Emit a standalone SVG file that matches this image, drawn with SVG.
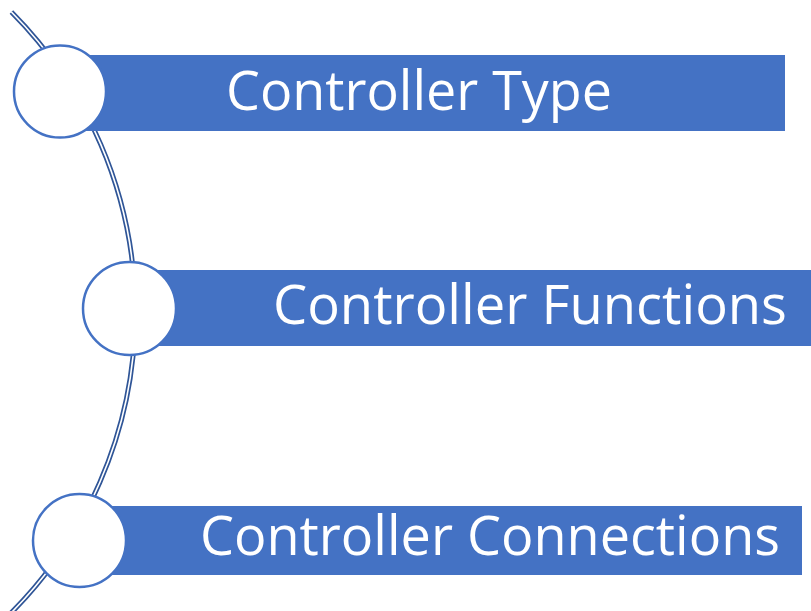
<svg xmlns="http://www.w3.org/2000/svg" width="811" height="611" viewBox="0 0 811 611">
<style>
.bar{fill:#4472C4;}
.node circle{fill:#FFFFFF;stroke:#4472C4;stroke-width:2.5;}
.lbl{font-family:"Open Sans","Noto Sans","Liberation Sans",sans-serif;font-size:55px;fill:#FFFFFF;}
.arcO{fill:none;stroke:#2F5597;stroke-width:5;}
.arcI{fill:none;stroke:#FFFFFF;stroke-width:1.6;}
</style>
<rect width="811" height="611" fill="#FFFFFF"/>
<g id="connectors">
<path class="arcO" d="M 11.4 12 A 426 426 0 0 1 10 614"/>
<path class="arcI" d="M 11.4 12 A 426 426 0 0 1 10 614"/>
</g>
<g id="node1" class="node">
<rect class="bar" x="60" y="55" width="725" height="76"/>
<circle cx="60" cy="91.5" r="46"/>
<text class="lbl" x="226" y="110" textLength="386" lengthAdjust="spacingAndGlyphs">Controller Type</text>
</g>
<g id="node2" class="node">
<rect class="bar" x="129" y="270" width="682" height="76"/>
<circle cx="129.5" cy="308.5" r="46.5"/>
<text class="lbl" x="273" y="324" textLength="514" lengthAdjust="spacingAndGlyphs">Controller Functions</text>
</g>
<g id="node3" class="node">
<rect class="bar" x="79" y="506" width="723" height="69"/>
<circle cx="79.5" cy="540.5" r="46.5"/>
<text class="lbl" x="200" y="555" textLength="580" lengthAdjust="spacingAndGlyphs">Controller Connections</text>
</g>
</svg>
